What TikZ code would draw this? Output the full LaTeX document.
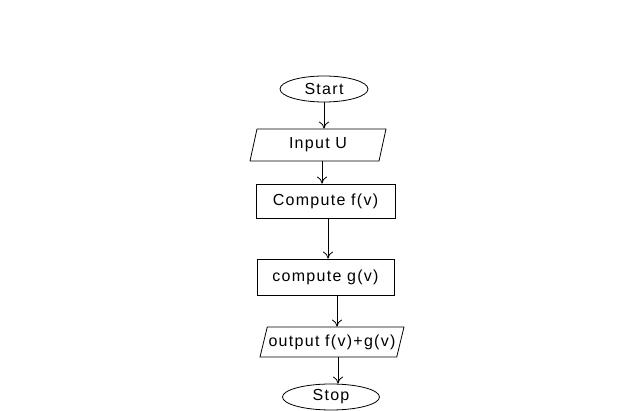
\documentclass[tikz,border=0pt]{standalone}
\usepackage{fontspec}
\setmainfont{Liberation Sans}[LetterSpace=8]
\usetikzlibrary{shapes.geometric,arrows.meta}
\begin{document}
\begin{tikzpicture}[x=1pt,y=-1pt,
  every node/.style={font=\fontsize{16}{18}\selectfont, inner sep=0pt},
  term/.style={draw, ellipse, line width=0.8pt},
  io/.style={draw, trapezium, trapezium left angle=64, trapezium right angle=116, trapezium stretches body, line width=0.8pt},
  proc/.style={draw, rectangle, line width=0.8pt},
  flow/.style={-{To[length=7pt,width=10pt]}, line width=0.8pt}]
\useasboundingbox (0,0) rectangle (640,411);
\node[term, minimum width=88pt, minimum height=26pt] (start) at (324,89) {Start};
\node[io, minimum width=136pt, minimum height=32pt] (in) at (318,145) {Input U};
\node[proc, minimum width=139pt, minimum height=34pt] (f) at (325.5,201) {Compute f(v)};
\node[proc, minimum width=137pt, minimum height=36pt] (g) at (325.5,277) {compute g(v)};
\node[io, minimum width=144pt, minimum height=30pt] (out) at (332,342) {output f(v)+g(v)};
\node[term, minimum width=97pt, minimum height=26pt] (stop) at (331,397) {Stop};
\draw[flow] (start.south) -- (start.south |- in.north);
\draw[flow] ([xshift=4pt]in.south) -- ([xshift=4pt]in.south |- f.north);
\draw[flow] ([xshift=2.5pt]f.south) -- ([xshift=2.5pt]f.south |- g.north);
\draw[flow] ([xshift=11.5pt]g.south) -- ([xshift=11.5pt]g.south |- out.north);
\draw[flow] ([xshift=6pt]out.south) -- ([xshift=6pt]out.south |- stop.north);
\end{tikzpicture}
\end{document}
